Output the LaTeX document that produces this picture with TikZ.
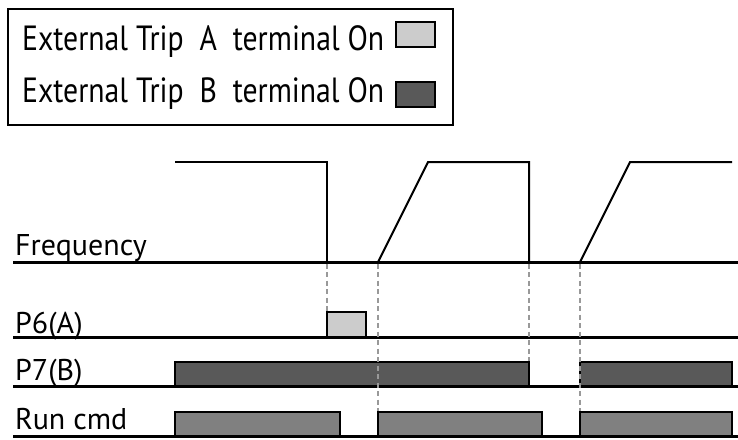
\documentclass[tikz,border=0pt]{standalone}
\usepackage{fontspec}
\setmainfont{PT Sans}
\newfontfamily\legfont[FakeStretch=0.85]{PT Sans}
\usepackage{xcolor}
\usetikzlibrary{positioning}

\definecolor{tripA}{HTML}{CCCCCC}
\definecolor{tripB}{HTML}{595959}
\definecolor{runc}{HTML}{808080}

\begin{document}
\begin{tikzpicture}[x=1pt,y=-1pt,
  axis/.style={line width=3pt},
  wave/.style={line width=2pt,line join=miter},
  guide/.style={draw=black!40,line width=1.5pt,dash pattern=on 5pt off 3.5pt},
  lbl/.style={anchor=base west,inner sep=0pt,font=\fontsize{30}{31}\selectfont},
  leg/.style={anchor=base west,inner sep=0pt,font=\legfont\fontsize{35}{36}\selectfont},
  swatch/.style={draw,line width=1.5pt,minimum width=39pt,minimum height=25pt,inner sep=0pt},
  pulse/.style={draw,line width=1.5pt}
]
\useasboundingbox (0,0) rectangle (738,439);

% legend
\draw[line width=2pt] (8,9) rectangle (453,125);
\node[leg] (legA) at (22,50) {External Trip\ \ A\ \ terminal On};
\node[leg] (legB) at (22,102) {External Trip\ \ B\ \ terminal On};
\node[swatch,fill=tripA] (swA) at (415.5,34.5) {};
\node[swatch,fill=tripB] (swB) at (415.5,94.5) {};

% signal names
\node[lbl] (freq) at (15,255) {Frequency};
\node[lbl] (pa) at (15,333) {P6(A)};
\node[lbl] (pb) at (15,380) {P7(B)};
\node[lbl] (run) at (15,429) {Run cmd};

% base lines
\draw[axis] (13,262) -- (738,262);
\draw[axis] (13,337) -- (738,337);
\draw[axis] (13,386) -- (738,386);
\draw[axis] (13,436) -- (738,436);

% frequency
\draw[wave] (175,162) -- (327,162) -- (327,262);
\draw[wave] (378,262) -- (428,162) -- (529,162) -- (529,262);
\draw[wave] (580,262) -- (630,162) -- (732,162);

% terminal inputs
\draw[pulse,fill=tripA] (327,312) rectangle (366,337);
\draw[pulse,fill=tripB] (175,362) rectangle (529,386);
\draw[pulse,fill=tripB] (580,362) rectangle (732,386);

% run command
\draw[pulse,fill=runc] (175,412) rectangle (340,436);
\draw[pulse,fill=runc] (378,412) rectangle (542,436);
\draw[pulse,fill=runc] (580,412) rectangle (732,436);

% timing guides
\coordinate (t1) at (327,263.5);
\coordinate (t2) at (378,263.5);
\coordinate (t3) at (529,263.5);
\coordinate (t4) at (580,263.5);
\draw[guide] (t1) -- (327,311);
\draw[guide] (t2) -- (378,411);
\draw[guide] (t3) -- (529,361);
\draw[guide] (t4) -- (580,411);
\end{tikzpicture}
\end{document}
